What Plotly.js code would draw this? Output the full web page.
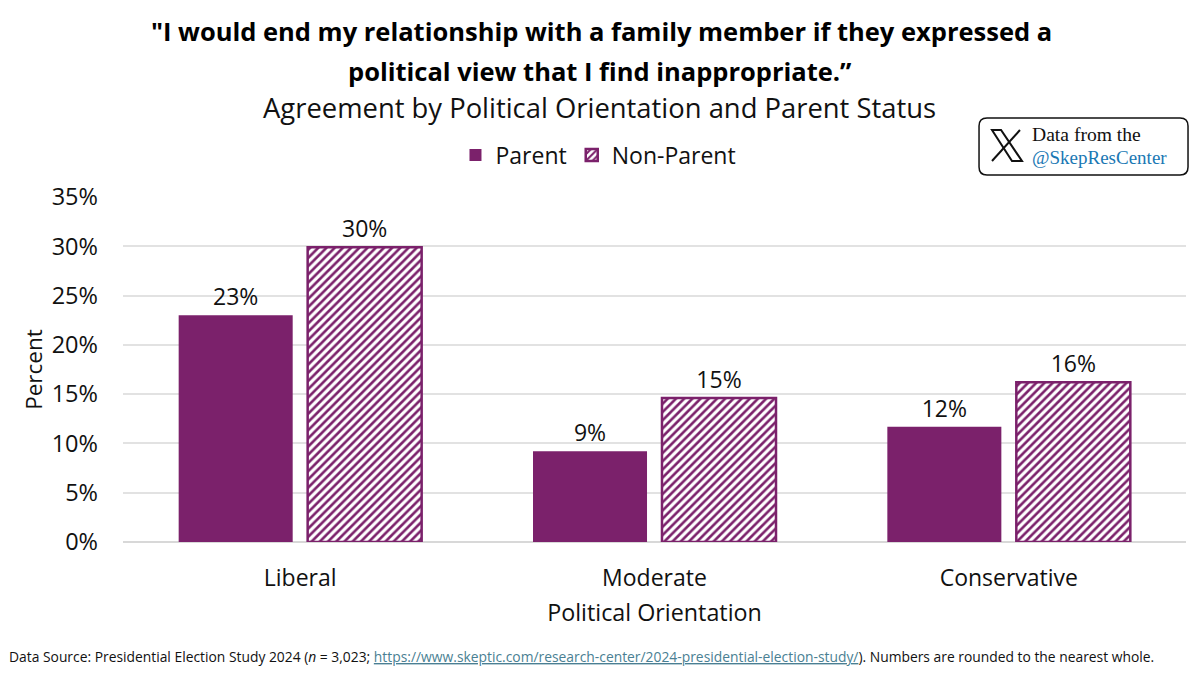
<!DOCTYPE html>
<html>
<head>
<meta charset="utf-8">
<script src="https://cdn.plot.ly/plotly-3.0.1.min.js"></script>
<style>body{margin:0;background:#fff}</style>
</head>
<body>
<div id="myDiv" style="width:1200px;height:675px"></div>
<script>
let categories = ['Liberal', 'Moderate', 'Conservative'];
let parentValues = [23, 9.2, 11.7];
let nonParentValues = [29.9, 14.6, 16.2];
let parentLabels = ['23%', '9%', '12%'];
let nonParentLabels = ['30%', '15%', '16%'];
let yTicks = [0, 5, 10, 15, 20, 25, 30, 35];
let yTickLabels = ['0%', '5%', '10%', '15%', '20%', '25%', '30%', '35%'];

let purple = '#7b216b';
let fontName = '"Open Sans", "Noto Sans", sans-serif';
let W = 1200, H = 675;

let trace1 = {
  x: categories,
  y: parentValues,
  text: parentLabels,
  type: 'bar',
  name: 'Parent',
  textposition: 'outside',
  cliponaxis: false,
  textfont: {family: fontName, size: 23, color: '#111'},
  marker: {color: purple, line: {color: purple, width: 0}}
};
let trace2 = {
  x: categories,
  y: nonParentValues,
  text: nonParentLabels,
  type: 'bar',
  name: 'Non-Parent',
  textposition: 'outside',
  cliponaxis: false,
  textfont: {family: fontName, size: 23, color: '#111'},
  marker: {
    color: '#ffffff',
    line: {color: purple, width: 2.5},
    pattern: {shape: '/', fgcolor: purple, bgcolor: '#ffffff', size: 5.8, solidity: 0.45}
  }
};

// badge is laid out in page pixels, turned into paper coordinates
let plotL = 123, plotR = 1186, plotT = 197, plotB = 542;
let px = (x) => ((x - plotL) / (plotR - plotL)).toFixed(4);
let py = (y) => ((plotB - y) / (plotB - plotT)).toFixed(4);
let P = (x, y) => px(x) + ' ' + py(y);

let badgePath = 'M ' + P(987, 118) + ' L ' + P(1180, 118) + ' Q ' + P(1188, 118) + ' ' + P(1188, 126) +
  ' L ' + P(1188, 167) + ' Q ' + P(1188, 175) + ' ' + P(1180, 175) + ' L ' + P(987, 175) +
  ' Q ' + P(979, 175) + ' ' + P(979, 167) + ' L ' + P(979, 126) + ' Q ' + P(979, 118) + ' ' + P(987, 118) + ' Z';
let logoThick = 'M ' + P(992, 130) + ' L ' + P(1001, 130) + ' L ' + P(1022, 161) + ' L ' + P(1012, 161) + ' Z';
let logoThin = 'M ' + P(1020, 130) + ' L ' + P(992, 161);

let layout = {
  width: W,
  height: H,
  paper_bgcolor: '#ffffff',
  plot_bgcolor: '#ffffff',
  margin: {l: plotL, r: W - plotR, t: plotT, b: H - plotB, autoexpand: false},
  font: {family: fontName, color: '#111'},
  barmode: 'group',
  bargap: 0.272,
  bargroupgap: 0.116,
  xaxis: {
    title: {text: 'Political Orientation', font: {family: fontName, size: 23.3, color: '#111'}, standoff: 12},
    tickfont: {family: fontName, size: 23, color: '#111'},
    ticks: '',
    ticklabelstandoff: 20,
    showline: false,
    automargin: false
  },
  yaxis: {
    title: {text: 'Percent', font: {family: fontName, size: 22.5, color: '#111'}, standoff: 2},
    tickvals: yTicks,
    ticktext: yTickLabels,
    range: [0, 35],
    tickfont: {family: fontName, size: 23.5, color: '#111'},
    ticklabelstandoff: 24,
    gridcolor: '#e2e2e2',
    gridwidth: 1.5,
    zeroline: true,
    zerolinecolor: '#d8d8d8',
    zerolinewidth: 1.5,
    automargin: false
  },
  legend: {
    orientation: 'h',
    x: 0.4473,
    xanchor: 'center',
    y: py(155),
    yanchor: 'middle',
    font: {family: fontName, size: 23, color: '#111'},
    itemwidth: 30,
    traceorder: 'normal'
  },
  shapes: [
    {type: 'path', xref: 'paper', yref: 'paper', path: badgePath, fillcolor: '#ffffff', line: {color: '#111', width: 1.5}},
    {type: 'path', xref: 'paper', yref: 'paper', path: logoThick, fillcolor: '#ffffff', line: {color: '#111', width: 2}},
    {type: 'path', xref: 'paper', yref: 'paper', path: logoThin, line: {color: '#111', width: 2}}
  ],
  annotations: [
    {
      text: '<b>"I would end my relationship with a family member if they expressed a</b>',
      xref: 'paper', yref: 'paper',
      x: px(601), y: py(31), xanchor: 'center', yanchor: 'middle',
      showarrow: false,
      font: {family: fontName, size: 25.5, color: '#000'}
    },
    {
      text: '<b>political view that I find inappropriate.”</b>',
      xref: 'paper', yref: 'paper',
      x: px(600), y: py(71), xanchor: 'center', yanchor: 'middle',
      showarrow: false,
      font: {family: fontName, size: 25.5, color: '#000'}
    },
    {
      text: 'Agreement by Political Orientation and Parent Status',
      xref: 'paper', yref: 'paper',
      x: px(600), y: py(108), xanchor: 'center', yanchor: 'middle',
      showarrow: false,
      font: {family: fontName, size: 27.4, color: '#111'}
    },
    {
      text: 'Data from the',
      xref: 'paper', yref: 'paper',
      x: px(1030), y: py(134), xanchor: 'left', yanchor: 'middle',
      showarrow: false,
      font: {family: 'Liberation Serif, serif', size: 19.6, color: '#111'}
    },
    {
      text: '@SkepResCenter',
      xref: 'paper', yref: 'paper',
      x: px(1030), y: py(157), xanchor: 'left', yanchor: 'middle',
      showarrow: false,
      font: {family: 'Liberation Serif, serif', size: 19, color: '#1a78b4'}
    },
    {
      text: 'Data Source: Presidential Election Study 2024 (<i>n</i> = 3,023; <span style="text-decoration:underline;fill:#4a7f93">https://www.skeptic.com/research-center/2024-presidential-election-study/</span>). Numbers are rounded to the nearest whole.',
      xref: 'paper', yref: 'paper',
      x: px(7), y: py(657), xanchor: 'left', yanchor: 'middle',
      showarrow: false,
      font: {family: fontName, size: 13.85, color: '#111'}
    }
  ]
};

let data = [trace1, trace2];
Plotly.newPlot('myDiv', data, layout, {displayModeBar: false});
</script>
</body>
</html>
